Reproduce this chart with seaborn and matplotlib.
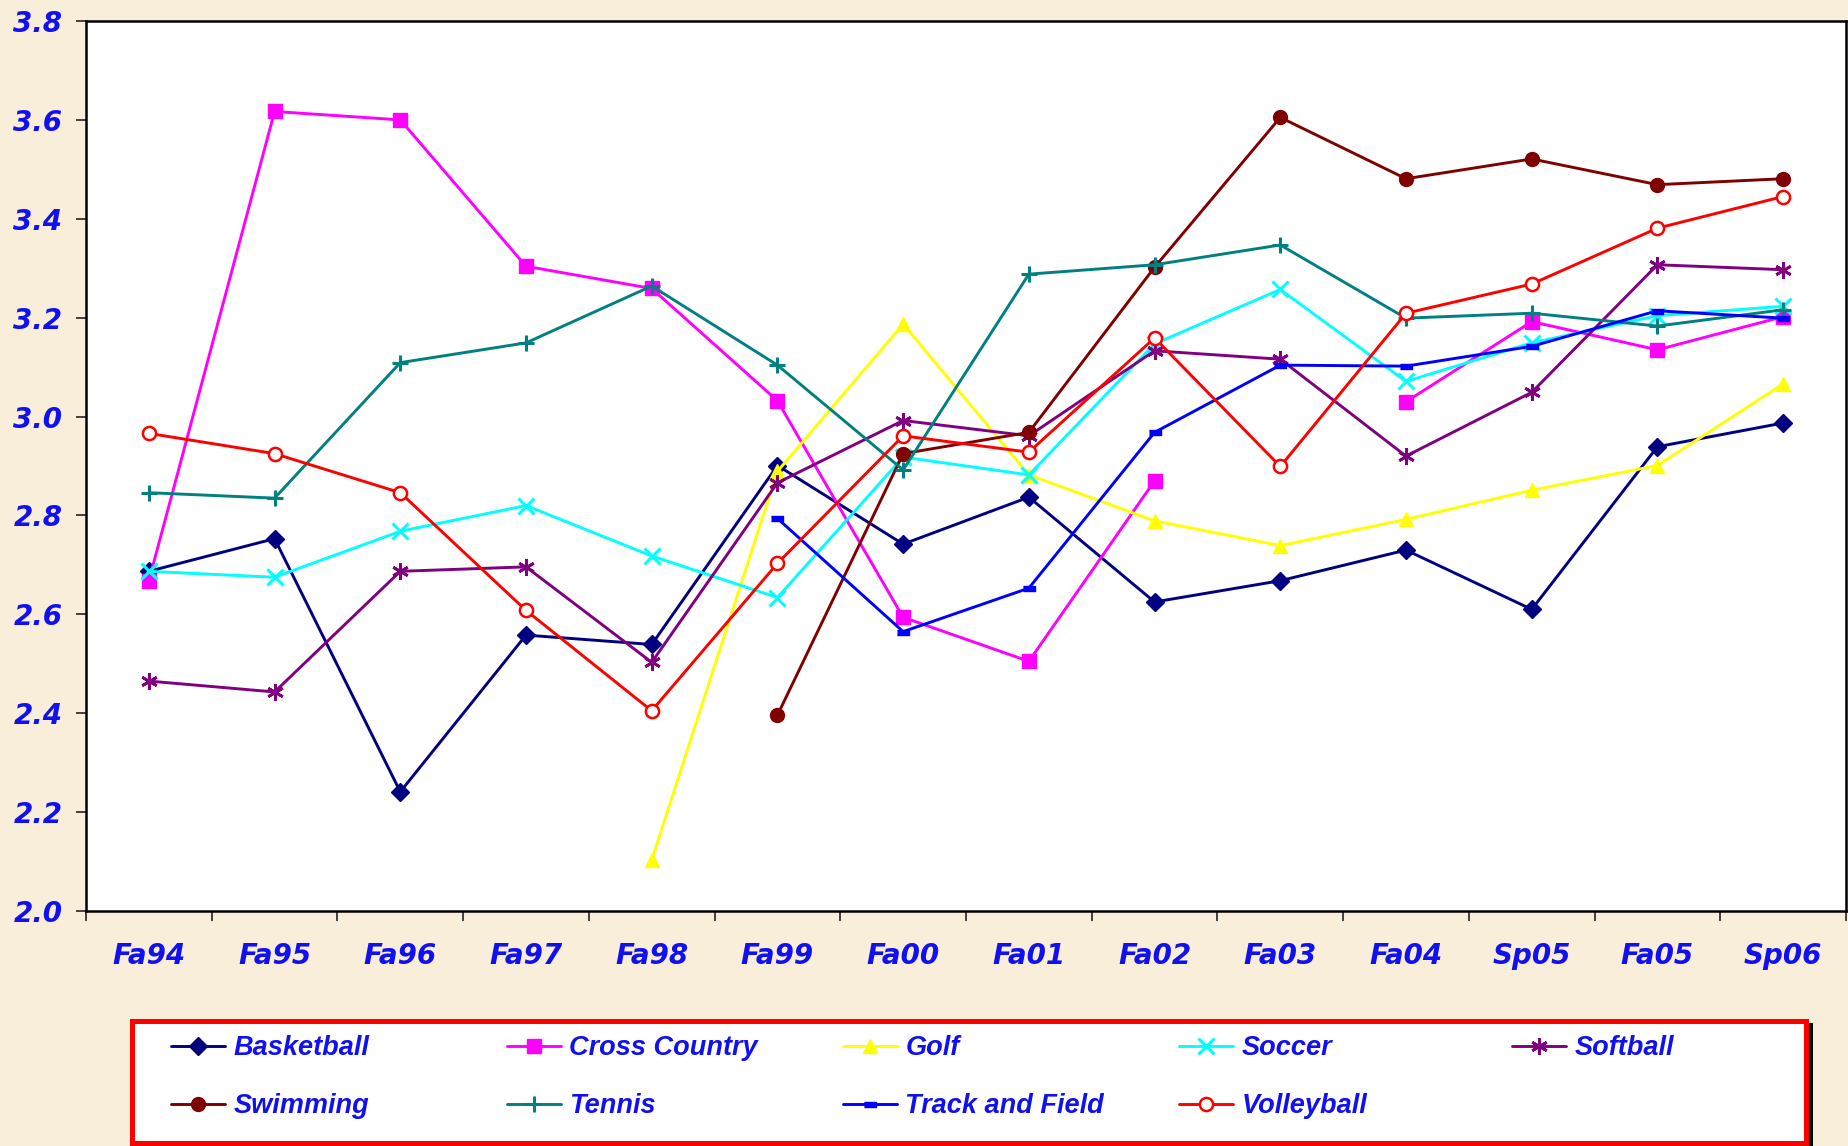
import numpy as np
import pandas as pd
import matplotlib
matplotlib.use("Agg")
import matplotlib.pyplot as plt
import seaborn as sns
from matplotlib.lines import Line2D
from matplotlib.patches import Rectangle

nan = np.nan

terms = ["Fa94", "Fa95", "Fa96", "Fa97", "Fa98", "Fa99", "Fa00",
         "Fa01", "Fa02", "Fa03", "Fa04", "Sp05", "Fa05", "Sp06"]

basketball = [2.687, 2.753, 2.241, 2.558, 2.539, 2.901, 2.742, 2.837, 2.625, 2.668, 2.730, 2.610, 2.939, 2.987]
cross_country = [2.668, 3.617, 3.600, 3.304, 3.259, 3.032, 2.594, 2.505, 2.870, nan, 3.030, 3.192, 3.135, 3.202]
golf = [nan, nan, nan, nan, 2.103, 2.889, 3.187, 2.882, 2.789, 2.739, 2.792, 2.851, 2.901, 3.066]
soccer = [2.687, 2.675, 2.768, 2.820, 2.718, 2.634, 2.918, 2.882, 3.147, 3.257, 3.071, 3.149, 3.204, 3.223]
softball = [2.465, 2.443, 2.687, 2.696, 2.503, 2.866, 2.992, 2.961, 3.133, 3.116, 2.920, 3.049, 3.307, 3.297]
swimming = [nan, nan, nan, nan, nan, 2.396, 2.925, 2.968, 3.302, 3.605, 3.481, 3.521, 3.469, 3.481]
tennis = [2.846, 2.835, 3.109, 3.149, 3.264, 3.104, 2.892, 3.288, 3.307, 3.347, 3.199, 3.209, 3.183, 3.216]
track_and_field = [nan, nan, nan, nan, nan, 2.794, 2.565, 2.653, 2.968, 3.104, 3.102, 3.142, 3.214, 3.199]
volleyball = [2.966, 2.925, 2.846, 2.608, 2.405, 2.703, 2.961, 2.928, 3.159, 2.899, 3.209, 3.268, 3.381, 3.445]

series_names = ["Basketball", "Cross Country", "Golf", "Soccer", "Softball",
                "Swimming", "Tennis", "Track and Field", "Volleyball"]
series_values = [basketball, cross_country, golf, soccer, softball,
                 swimming, tennis, track_and_field, volleyball]

colors = ["#000080", "#FF00FF", "#FFFF00", "#00FFFF", "#800080",
          "#800000", "#008080", "#0000FF", "#FF0000"]
dash_marker = [(-1.0, -0.45), (1.0, -0.45), (1.0, 0.45), (-1.0, 0.45)]
markers = ["D", "s", "^", "x", (6, 2, 0), "o", "+", dash_marker, "o"]
msizes = [9.5, 10.5, 10.5, 11, 12, 10, 11, 8, 9.5]
faces = ["#000080", "#FF00FF", "#FFFF00", "#00FFFF", "#800080",
         "#800000", "#008080", "#0000FF", "white"]
medge = [1, 1, 1, 2.2, 2, 1, 2.2, 1, 1.8]
LW = 2.1

# long-form table, with a segment id that breaks lines at missing values
rows = []
for name, vals in zip(series_names, series_values):
    seg = 0
    for i, v in enumerate(vals):
        if np.isnan(v):
            seg += 1
            continue
        rows.append({"series": name, "pos": i, "gpa": v, "seg": seg})
df = pd.DataFrame(rows)

sns.set_theme(style="white")
bg = "#F9EEDA"
txt_blue = "#1010F0"

W, H = 1848.0, 1146.0
fig = plt.figure(figsize=(W / 100, H / 100), dpi=100, facecolor=bg)
ax = fig.add_axes([86 / W, 1 - 911 / H, (1846 - 86) / W, (911 - 21) / H])
ax.set_facecolor("white")

for name, c, m, ms, fc, mew in zip(series_names, colors, markers, msizes, faces, medge):
    sub = df[df["series"] == name]
    sns.lineplot(data=sub, x="pos", y="gpa", units="seg", estimator=None,
                 sort=False, color=c, marker=m, markersize=ms,
                 markerfacecolor=fc, markeredgecolor=c, markeredgewidth=mew,
                 linewidth=LW, legend=False, ax=ax)

ax.set_xlim(-0.5, 13.5)
ax.set_ylim(2.0, 3.8)
ax.set_xlabel("")
ax.set_ylabel("")

yt = np.round(np.arange(2.0, 3.81, 0.2), 1)
ax.set_yticks(yt)
ax.set_yticklabels([f"{v:.1f}" for v in yt])
ax.set_xticks(range(len(terms)))
ax.set_xticklabels(terms)
ax.set_xticks(np.arange(-0.5, len(terms), 1.0), minor=True)

for lab in ax.get_xticklabels() + ax.get_yticklabels():
    lab.set_fontfamily("DejaVu Sans")
    lab.set_fontweight("bold")
    lab.set_fontstyle("italic")
    lab.set_fontsize(20)
    lab.set_color(txt_blue)

ax.tick_params(axis="x", which="major", length=0, pad=22)
ax.tick_params(axis="x", which="minor", length=7, width=1.3, direction="out",
               color="#333333", bottom=True)
ax.tick_params(axis="y", which="major", length=7, width=1.3, direction="out",
               color="#333333", pad=10, left=True)

for side, sp in ax.spines.items():
    sp.set_color("black")
    sp.set_linewidth(1.8)
    sp.set_visible(True)

# legend frame (red box with black drop shadow)
bx0, bx1, by0, by1 = 131.5, 1805.5, 1020.5, 1142.5
fig.patches.append(Rectangle(((bx0 + 4) / W, 1 - (by1 + 4) / H),
                             (bx1 - bx0) / W, (by1 - by0) / H,
                             transform=fig.transFigure, facecolor="black",
                             edgecolor="black", linewidth=3.6, zorder=0))
fig.patches.append(Rectangle((bx0 / W, 1 - by1 / H),
                             (bx1 - bx0) / W, (by1 - by0) / H,
                             transform=fig.transFigure, facecolor="white",
                             edgecolor="#FF0000", linewidth=3.6, zorder=1))

# legend entries, laid out in 5 evenly spaced columns, 2 rows
col_x = [171, 507, 843, 1179, 1512]
row_y = [1048, 1106]
for k, (name, c, m, ms, fc, mew) in enumerate(zip(series_names, colors, markers, msizes, faces, medge)):
    r, col = divmod(k, 5)
    h = Line2D([], [], color=c, marker=m, markersize=ms,
               markerfacecolor=fc, markeredgecolor=c,
               markeredgewidth=mew, linewidth=LW)
    lg = fig.legend(handles=[h], labels=[name], loc="center left",
                    bbox_to_anchor=(col_x[col] / W, 1 - row_y[r] / H),
                    prop=dict(family=["Liberation Sans", "DejaVu Sans"],
                              weight="bold", style="italic", size=19.5),
                    frameon=False, borderpad=0, borderaxespad=0,
                    handlelength=2.0, handletextpad=0.3)
    for t in lg.get_texts():
        t.set_color(txt_blue)

fig.savefig("out.png", dpi=100, facecolor=bg)
